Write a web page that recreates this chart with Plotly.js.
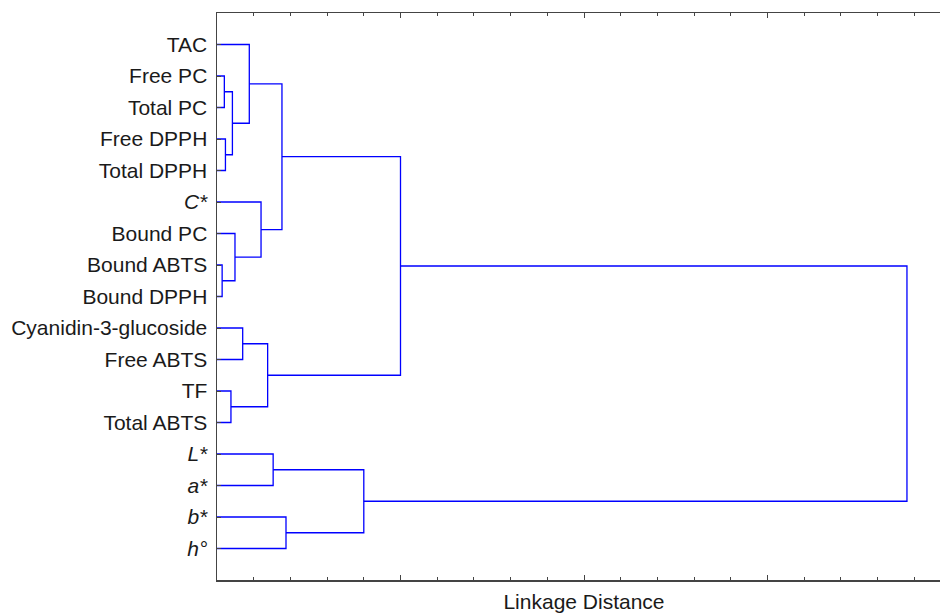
<!DOCTYPE html>
<html>
<head>
<meta charset="utf-8">
<script src="https://cdn.plot.ly/plotly-3.0.1.min.js"></script>
<style>
html, body { margin: 0; padding: 0; overflow: hidden; background: #fff; }
#chart { width: 962px; height: 613px; }
</style>
</head>
<body>
<div id="chart"></div>
<script>
// Leaf labels, top to bottom
const leaves = ["TAC", "Free PC", "Total PC", "Free DPPH", "Total DPPH", "<i>C*</i>",
  "Bound PC", "Bound ABTS", "Bound DPPH", "Cyanidin-3-glucoside", "Free ABTS",
  "TF", "Total ABTS", "<i>L*</i>", "<i>a*</i>", "<i>b*</i>", "<i>h°</i>"];

// Merge steps: left node, right node (ids < 17 are leaves, 17+k is merge k)
const mergeLeft  = [7, 1, 3, 11, 18, 6, 9, 0, 5, 23, 13, 24, 15, 27, 28, 31];
const mergeRight = [8, 2, 4, 12, 19, 17, 10, 21, 22, 20, 14, 25, 16, 29, 26, 30];
// Linkage distance of each merge
const mergeHeight = [0.14, 0.20, 0.23, 0.38, 0.42, 0.49, 0.70, 0.88, 1.20, 1.38,
  1.53, 1.77, 1.88, 4.0, 5.0, 18.8];

const n = leaves.length;
const nodeY = [], nodeX = [];
for (let i = 0; i < n; i++) { nodeY.push(i + 1); nodeX.push(0); }
const xs = [], ys = [];
for (let k = 0; k < mergeLeft.length; k++) {
  const a = mergeLeft[k], b = mergeRight[k], h = mergeHeight[k];
  xs.push(nodeX[a], h, h, nodeX[b], null);
  ys.push(nodeY[a], nodeY[a], nodeY[b], nodeY[b], null);
  nodeX.push(h);
  nodeY.push((nodeY[a] + nodeY[b]) / 2);
}

const axisColor = '#444';
const trace = {
  x: xs, y: ys, type: 'scatter', mode: 'lines',
  line: { color: 'rgb(0,0,255)', width: 1.3 },
  hoverinfo: 'skip', showlegend: false
};

const layout = {
  width: 962, height: 613,
  margin: { l: 217, r: 11, t: 13, b: 33 },
  paper_bgcolor: '#fff', plot_bgcolor: '#fff',
  font: { family: '"Liberation Sans", Arial, sans-serif', size: 21, color: '#1a1a1a' },
  xaxis: {
    range: [0, 20], showgrid: false, zeroline: false,
    showline: true, linecolor: axisColor, linewidth: 1.5, mirror: 'ticks',
    ticks: 'inside', ticklen: 5, tickcolor: axisColor, tickwidth: 1,
    tick0: 0, dtick: 5, showticklabels: false,
    minor: { dtick: 1, ticks: 'inside', ticklen: 3, tickcolor: axisColor, showgrid: false },
    title: { text: 'Linkage Distance', font: { size: 21, color: '#1a1a1a' }, standoff: 15 }
  },
  yaxis: {
    range: [18, 0], showgrid: false, zeroline: false,
    showline: true, linecolor: axisColor, linewidth: 1.5, mirror: 'ticks',
    ticks: 'inside', ticklen: 4, tickcolor: axisColor,
    tickmode: 'array', tickvals: leaves.map((_, i) => i + 1), ticktext: leaves,
    tickfont: { size: 21, color: '#1a1a1a' }, ticklabelstandoff: 4
  }
};

Plotly.newPlot('chart', [trace], layout, { staticPlot: true, displayModeBar: false });
</script>
</body>
</html>
